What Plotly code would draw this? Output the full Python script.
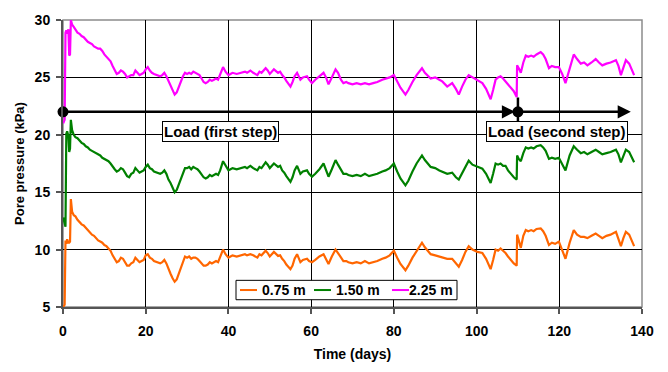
import plotly.graph_objects as go

# ---------------- data ----------------
time_days = [0.05, 0.4, 0.6, 0.8, 1.0, 1.3, 1.5, 1.7, 1.9, 2.2, 2.6, 3, 3.5, 4, 4.5, 5, 5.5, 6, 6.5, 7,
             7.5, 8, 8.5, 9, 9.5, 10, 10.5, 11, 11.5, 12, 12.5, 13, 13.5, 14, 14.5, 15, 15.5, 16, 16.5, 17,
             17.5, 18, 18.5, 19, 19.5, 20, 20.5, 21, 21.5, 22, 23, 23.5, 24, 24.5, 25, 25.5, 26, 26.5, 27, 27.5,
             28, 28.5, 29, 29.5, 30, 30.5, 31, 31.5, 32, 32.5, 33, 33.5, 34, 34.5, 35, 35.5, 36, 36.5, 37, 37.5,
             38, 38.7, 39.3, 40, 40.5, 41, 42, 43, 44, 44.5, 45.3, 46, 47, 47.5, 48, 49, 49.5, 50, 50.5, 51,
             52, 52.5, 53, 53.5, 54, 55, 55.5, 56, 56.6, 57.4, 58, 59, 59.5, 60.2, 61, 62, 63, 63.6, 64.2, 65,
             65.9, 66.5, 67.2, 67.8, 68.5, 69, 70, 71, 72, 73, 74, 75, 76, 77.2, 78, 79, 80, 80.8, 81.6, 82.8,
             83.5, 84.5, 85.5, 86.8, 87.5, 88.9, 90, 91, 91.7, 92.9, 94.1, 95, 95.7, 96.5, 97.3, 98.1, 99, 100.2, 101.4, 102.3,
             103.4, 104, 104.6, 105.2, 105.8, 106.4, 107, 107.6, 108.2, 109, 109.7, 109.8, 110.2, 110.7, 111.3, 111.9, 112.5, 113.2, 113.8, 114.5,
             115.5, 116.1, 116.7, 117.5, 118.2, 119, 119.9, 120.7, 121.5, 122.5, 123.5, 124.3, 125.2, 126, 126.8, 127.8, 128.8, 129.6, 130.4, 131.4,
             132.4, 133.7, 134.3, 134.9, 135.5, 136.1, 136.9, 137.5, 138.1]

pp_225 = [21.0, 21.3, 28.9, 29.1, 28.8, 29.2, 26.9, 27.0, 30.0, 29.6, 29.4, 29.2, 28.9, 28.8, 28.6, 28.5, 28.3, 28.1, 28.0, 27.9,
          27.7, 27.6, 27.5, 27.5, 27.3, 27.0, 26.8, 26.6, 26.4, 26.0, 25.7, 25.3, 25.4, 25.6, 25.5, 25.3, 25.0, 25.1, 25.2, 25.2,
          25.6, 25.4, 25.2, 25.3, 25.4, 25.7, 25.9, 25.6, 25.4, 25.3, 25.2, 25.1, 25.2, 25.4, 25.1, 24.7, 24.3, 23.9, 23.5, 23.7,
          24.2, 24.7, 25.1, 25.4, 25.3, 25.4, 25.3, 25.5, 25.4, 25.3, 25.2, 24.9, 24.6, 24.5, 24.6, 24.8, 24.7, 24.8, 24.9, 24.8,
          25.2, 25.9, 25.5, 25.2, 25.3, 25.4, 25.3, 25.4, 25.5, 25.4, 25.6, 25.4, 25.2, 25.5, 25.4, 25.8, 25.6, 25.3, 25.5, 25.7,
          25.4, 25.5, 25.2, 25.0, 24.7, 24.2, 24.6, 25.1, 25.4, 24.8, 25.0, 25.1, 24.8, 24.5, 24.8, 25.1, 25.4, 25.0, 24.4, 25.0,
          25.7, 25.4, 24.8, 24.5, 24.6, 24.5, 24.4, 24.5, 24.4, 24.5, 24.4, 24.5, 24.6, 24.8, 24.9, 25.0, 25.2, 24.7, 24.1, 23.5,
          23.9, 24.6, 25.2, 25.8, 25.4, 24.9, 25.0, 24.8, 24.65, 24.2, 24.5, 24.0, 23.5, 24.2, 24.8, 25.2, 25.0, 24.8, 24.5, 24.0,
          23.1, 23.9, 24.8, 25.0, 25.1, 24.9, 24.65, 24.4, 24.1, 23.8, 23.3, 26.05, 25.8, 25.4, 26.3, 26.9, 26.8, 26.9, 26.8, 27.0,
          27.2, 27.0, 26.6, 25.8, 26.0, 25.9, 25.9, 25.3, 24.5, 25.8, 27.0, 26.6, 26.2, 26.3, 26.05, 26.3, 26.6, 26.3, 26.05, 26.2,
          26.3, 26.5, 26.0, 25.2, 25.9, 26.5, 26.2, 25.7, 25.2]

pp_150 = [12.8, 12.3, 12.0, 20.1, 20.3, 19.9, 18.5, 18.8, 21.3, 20.4, 20.0, 19.8, 19.7, 19.5, 19.3, 19.2, 19.0, 18.9, 18.7, 18.6,
          18.5, 18.4, 18.3, 18.2, 18.0, 17.9, 17.8, 17.7, 17.5, 17.2, 17.0, 16.8, 16.9, 17.1, 17.0, 16.7, 16.4, 16.3, 16.6, 16.7,
          17.1, 16.9, 16.7, 16.8, 16.9, 17.2, 17.4, 17.1, 17.0, 16.8, 16.7, 16.6, 16.7, 16.9, 16.6, 16.1, 15.8, 15.4, 15.0, 15.2,
          15.7, 16.2, 16.7, 17.1, 17.1, 17.2, 17.0, 17.2, 17.1, 17.0, 16.8, 16.5, 16.3, 16.2, 16.3, 16.5, 16.4, 16.5, 16.6, 16.5,
          16.9, 17.7, 17.3, 16.9, 17.0, 17.1, 17.0, 17.1, 17.2, 17.1, 17.3, 17.1, 16.9, 17.2, 17.1, 17.6, 17.4, 17.1, 17.3, 17.5,
          17.2, 17.3, 16.9, 16.7, 16.4, 15.9, 16.3, 16.9, 17.3, 16.6, 16.8, 16.9, 16.6, 16.35, 16.6, 17.0, 17.5, 17.0, 16.35, 17.0,
          17.8, 17.4, 16.9, 16.6, 16.6, 16.5, 16.4, 16.5, 16.4, 16.6, 16.4, 16.5, 16.6, 16.8, 16.9, 17.1, 17.5, 16.8, 16.2, 15.6,
          16.0, 16.8, 17.5, 18.2, 17.8, 17.2, 17.1, 16.9, 16.8, 16.6, 16.7, 16.3, 16.1, 16.7, 17.3, 17.75, 17.4, 17.2, 17.05, 16.6,
          15.8, 16.6, 17.5, 17.4, 17.5, 17.3, 17.3, 16.9, 16.6, 16.3, 16.1, 18.2, 17.9, 17.7, 18.4, 18.9, 18.8, 18.9, 18.8, 19.0,
          19.1, 18.9, 18.6, 17.9, 18.0, 17.9, 18.0, 17.5, 16.9, 18.2, 19.0, 18.7, 18.4, 18.5, 18.3, 18.5, 18.7, 18.5, 18.3, 18.4,
          18.5, 18.7, 18.3, 17.6, 18.2, 18.7, 18.5, 18.0, 17.6]

pp_075 = [5.0, 5.2, 10.8, 10.5, 10.9, 10.6, 10.6, 10.7, 14.4, 13.3, 13.0, 12.9, 12.6, 12.4, 12.2, 12.1, 11.9, 11.7, 11.5, 11.3,
          11.2, 11.0, 10.8, 10.7, 10.6, 10.4, 10.3, 10.1, 9.9, 9.5, 9.2, 8.9, 9.0, 9.3, 9.2, 8.9, 8.6, 8.6, 8.8, 8.9,
          9.3, 9.1, 8.9, 9.0, 9.1, 9.5, 9.6, 9.3, 9.2, 9.0, 8.9, 8.8, 8.9, 9.1, 8.8, 8.3, 7.9, 7.5, 7.2, 7.4,
          7.9, 8.4, 8.9, 9.4, 9.3, 9.4, 9.2, 9.3, 9.3, 9.2, 9.0, 8.8, 8.6, 8.6, 8.7, 8.9, 8.8, 8.9, 9.0, 8.9,
          9.3, 10.0, 9.6, 9.3, 9.4, 9.5, 9.4, 9.5, 9.6, 9.5, 9.6, 9.5, 9.3, 9.6, 9.5, 9.9, 9.7, 9.4, 9.6, 9.8,
          9.45, 9.5, 9.2, 9.0, 8.7, 8.3, 8.6, 9.2, 9.6, 8.9, 9.1, 9.2, 9.0, 8.9, 9.1, 9.4, 9.6, 9.2, 8.75, 9.4,
          10.0, 9.7, 9.3, 9.0, 9.0, 8.9, 8.8, 8.9, 8.8, 9.0, 8.8, 8.9, 9.0, 9.2, 9.3, 9.5, 9.9, 9.3, 8.75, 8.2,
          8.6, 9.3, 9.9, 10.6, 10.2, 9.6, 9.5, 9.4, 9.3, 9.2, 9.2, 8.8, 8.5, 9.1, 9.8, 10.3, 10.0, 9.8, 9.7, 9.2,
          8.3, 9.1, 10.0, 9.9, 10.1, 9.9, 9.7, 9.4, 9.1, 8.8, 8.6, 11.3, 10.8, 10.15, 11.2, 11.7, 11.6, 11.7, 11.6, 11.8,
          11.85, 11.6, 11.2, 10.4, 10.6, 10.5, 10.7, 10.0, 9.2, 10.6, 11.7, 11.3, 11.1, 11.1, 11.0, 11.2, 11.4, 11.2, 11.0, 11.2,
          11.3, 11.55, 11.0, 10.3, 11.0, 11.55, 11.3, 10.8, 10.3]

series_names = ["0.75 m", "1.50 m", "2.25 m"]
series_colors = ["#FF6600", "#008000", "#FF00FF"]

load_level = 22.0          # kPa level of the load arrows
load_days = [0.0, 110.0]   # start of first and second load step
arrow_end = 137.3
load_labels = ["Load (first step)", "Load (second step)"]

# ---------------- figure ----------------
FONT = "Arial, Liberation Sans, Helvetica, sans-serif"
W, H = 668, 372
ML, MR, MT, MB = 63, 26, 15, 61
PW, PH = W - ML - MR, H - MT - MB


def px2x(px):
    return (px - ML) / PW


def py2y(py):
    return (H - MB - py) / PH


fig = go.Figure()

for name, vals, col in zip(series_names, [pp_075, pp_150, pp_225], series_colors):
    fig.add_trace(go.Scatter(x=time_days, y=vals, mode="lines", name=name,
                             line=dict(color=col, width=2.2), showlegend=False))

# load markers (dots)
fig.add_trace(go.Scatter(x=load_days, y=[load_level] * 2, mode="markers",
                         marker=dict(color="black", size=11), showlegend=False,
                         cliponaxis=False, hoverinfo="skip"))

# arrows
fig.add_annotation(x=load_days[1] - 0.7, y=load_level, ax=load_days[0], ay=load_level,
                   xref="x", yref="y", axref="x", ayref="y", text="", showarrow=True,
                   arrowhead=2, arrowsize=1.05, arrowwidth=2.5, arrowcolor="black")
fig.add_annotation(x=arrow_end, y=load_level, ax=load_days[1], ay=load_level,
                   xref="x", yref="y", axref="x", ayref="y", text="", showarrow=True,
                   arrowhead=2, arrowsize=1.05, arrowwidth=2.5, arrowcolor="black")
fig.add_shape(type="line", x0=load_days[1], x1=load_days[1], y0=load_level - 0.9, y1=load_level + 1.25,
              xref="x", yref="y", line=dict(color="black", width=2.5))

# labels
for lx, txt in zip([38.0, 119.4], load_labels):
    fig.add_annotation(x=lx, y=20.25, xref="x", yref="y", text="<b>" + txt + "</b>",
                       showarrow=False, font=dict(family=FONT, size=15, color="black"),
                       bgcolor="white", bordercolor="black", borderwidth=1, borderpad=1)

# gray frame (top/right)
fig.add_shape(type="rect", xref="paper", yref="paper", x0=0, x1=1, y0=0, y1=1,
              line=dict(color="#8c8c8c", width=1.5), layer="below")

# legend (box, samples, labels)
fig.add_shape(type="rect", xref="paper", yref="paper", x0=px2x(236), x1=px2x(457),
              y0=py2y(303.5), y1=py2y(283.5), fillcolor="white",
              line=dict(color="black", width=1), layer="above")
leg_line_x = [240, 314, 392]
leg_text_x = [260, 334, 407]
for lx, tx, name, col in zip(leg_line_x, leg_text_x, series_names, series_colors):
    fig.add_shape(type="line", xref="paper", yref="paper", x0=px2x(lx), x1=px2x(lx + 17),
                  y0=py2y(293.5), y1=py2y(293.5), line=dict(color=col, width=2), layer="above")
    fig.add_annotation(xref="paper", yref="paper", x=px2x(tx), y=py2y(293.5), xanchor="left",
                       yanchor="middle", text="<b>" + name + "</b>", showarrow=False,
                       font=dict(family=FONT, size=14, color="black"))

fig.update_layout(
    width=W, height=H,
    margin=dict(l=ML, r=MR, t=MT, b=MB),
    paper_bgcolor="white", plot_bgcolor="white",
    font=dict(family=FONT, size=13, color="black"),
    showlegend=False,
    xaxis=dict(range=[0, 140], tick0=0, dtick=20, showgrid=True, gridcolor="black", gridwidth=1,
               zeroline=False, showline=True, linecolor="#555555", linewidth=2,
               ticks="outside", ticklen=5, tickcolor="#555555", tickwidth=1.5, ticklabelstandoff=5,
               tickfont=dict(family=FONT, size=14, color="black", weight="bold"),
               title=dict(text="<b>Time (days)</b>", font=dict(family=FONT, size=14, color="black"),
                          standoff=11)),
    yaxis=dict(range=[5, 30], tick0=5, dtick=5, showgrid=True, gridcolor="black", gridwidth=1,
               zeroline=False, showline=True, linecolor="#555555", linewidth=2,
               ticks="outside", ticklen=5, tickcolor="#555555", tickwidth=1.5, ticklabelstandoff=3,
               tickfont=dict(family=FONT, size=14, color="black", weight="bold"),
               title=dict(text="<b>Pore pressure (kPa)</b>", font=dict(family=FONT, size=13, color="black"),
                          standoff=7)),
)

fig.write_html("out.html")
